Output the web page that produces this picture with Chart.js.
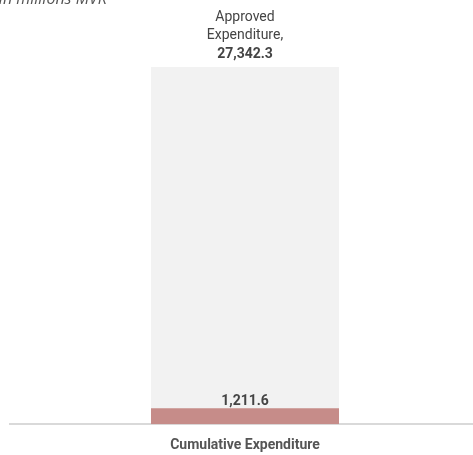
<!DOCTYPE html>
<html>
<head>
<meta charset="utf-8">
<script src="https://cdn.jsdelivr.net/npm/chart.js@4"></script>
<style>
  body { margin: 0; background: #fff; overflow: hidden; }
</style>
</head>
<body>
<canvas id="myChart" width="480" height="455"></canvas>
<script>
var categories = ['Cumulative Expenditure'];
var approved = [27342.3];
var cumulative = [1211.6];
var approvedLabel = ['Approved', 'Expenditure,'];
var unitNote = 'in millions MVR';

function fmt(v) {
    return v.toLocaleString('en-US', { minimumFractionDigits: 1, maximumFractionDigits: 1 });
}

// labels above the bars + the clipped unit note at top-left
var barText = {
    id: 'barText',
    afterDatasetsDraw: function (chart) {
        var ctx = chart.ctx;
        ctx.save();
        ctx.fillStyle = '#444';
        ctx.textAlign = 'center';
        ctx.textBaseline = 'alphabetic';

        var gray = chart.getDatasetMeta(0).data[0];
        ctx.font = '14px Roboto';
        ctx.fillText(approvedLabel[0], gray.x, gray.y - 46);
        ctx.fillText(approvedLabel[1], gray.x, gray.y - 28);
        ctx.font = 'bold 14px Roboto';
        ctx.fillText(fmt(approved[0]), gray.x, gray.y - 9);

        var red = chart.getDatasetMeta(1).data[0];
        ctx.fillText(fmt(cumulative[0]), red.x, red.y - 3);

        ctx.font = 'italic 16px "Open Sans"';
        ctx.fillStyle = '#555';
        ctx.textAlign = 'right';
        ctx.fillText(unitNote, 107, 4);
        ctx.restore();
    }
};

let myChart = document.getElementById('myChart').getContext('2d');
let barChart = new Chart(myChart, {
    type: 'bar',
    data: {
        labels: categories,
        datasets: [
            { label: 'Approved Expenditure', data: approved, backgroundColor: '#f2f2f2', order: 2, grouped: false, barPercentage: 0.4, categoryPercentage: 1 },
            { label: 'Cumulative Expenditure', data: cumulative, backgroundColor: '#c68c89', order: 1, grouped: false, barPercentage: 0.4, categoryPercentage: 1 }
        ]
    },
    options: {
        responsive: false, animation: false,
        layout: { padding: { top: 67, left: 10, right: 0, bottom: -12 } },
        plugins: { legend: { display: false }, tooltip: { enabled: false } },
        scales: {
            x: {
                grid: { display: false, drawTicks: false },
                border: { display: true, color: '#d9d9d9', width: 2 },
                ticks: { color: '#555', padding: 13, font: { family: 'Roboto', size: 14, weight: 'bold' } }
            },
            y: { display: false, min: 0, max: 27342.3 }
        }
    },
    plugins: [barText]
});
</script>
</body>
</html>
